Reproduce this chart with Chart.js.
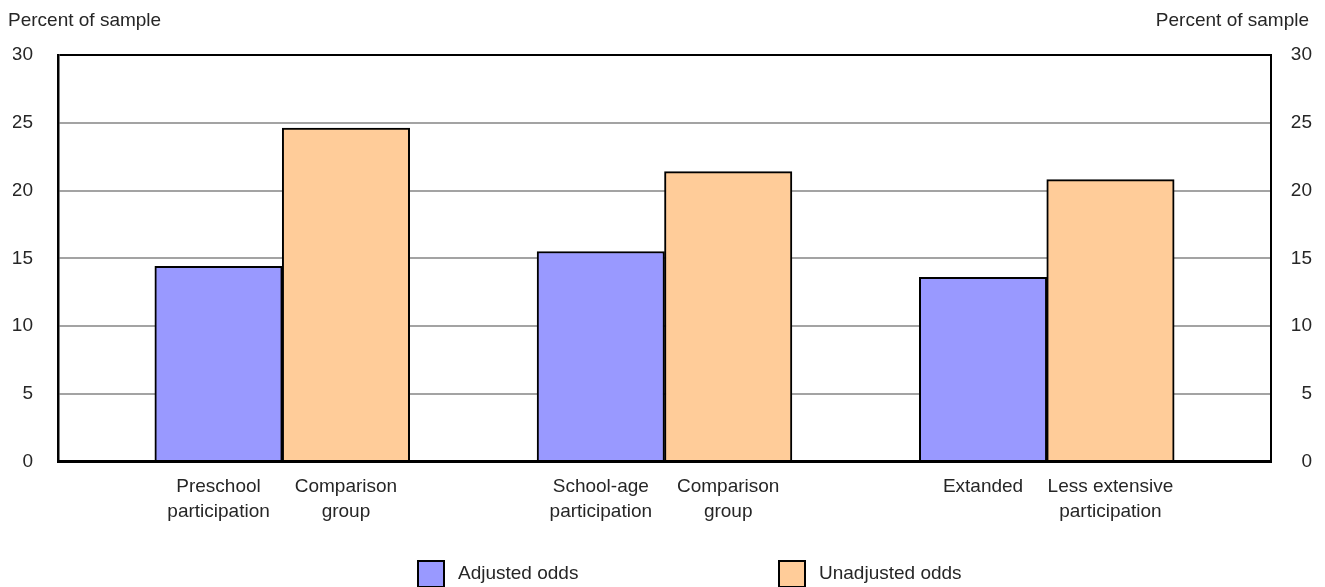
<!DOCTYPE html>
<html>
<head>
<meta charset="utf-8">
<title>Percent of sample</title>
<script src="https://cdn.jsdelivr.net/npm/chart.js@4.4.1/dist/chart.umd.min.js"></script>
<style>
  html, body { margin: 0; padding: 0; background: #ffffff; }
  #wrap { width: 1325px; height: 587px; }
</style>
</head>
<body>
<div id="wrap"><canvas id="chart" width="1325" height="587"></canvas></div>
<script>
// ---- data ----
const barLabels = [
  ['Preschool', 'participation'],
  ['Comparison', 'group'],
  ['School-age', 'participation'],
  ['Comparison', 'group'],
  ['Extanded'],
  ['Less extensive', 'participation']
];
const seriesNames = ['Adjusted odds', 'Unadjusted odds'];
const adjustedOdds = [14.4, 15.5, 13.6];
const unadjustedOdds = [24.6, 21.4, 20.8];
const yTickValues = [0, 5, 10, 15, 20, 25, 30];
const axisTitle = 'Percent of sample';

// ---- styling ----
const FONT_FAMILY = '"Liberation Sans", Arial, sans-serif';
const FONT_SIZE = 19;
const TEXT_COLOR = '#262626';
const GRID_COLOR = '#a3a3a3';
const COLORS = ['#9999ff', '#ffcc99'];

// Each group holds two bars side by side, with one empty slot between groups.
const slotOf = (group, series) => group * 3 + series;
const xSlots = [];
adjustedOdds.forEach((_, g) => { xSlots.push(slotOf(g, 0), slotOf(g, 1)); });

const series = [adjustedOdds, unadjustedOdds];
const datasets = series.map((values, s) => ({
  label: seriesNames[s],
  data: values.map((v, g) => ({ x: slotOf(g, s), y: v })),
  backgroundColor: COLORS[s],
  borderColor: '#000000',
  borderWidth: 2,
  borderSkipped: 'start',
  grouped: false,
  barPercentage: 1,
  categoryPercentage: 1,
  yAxisID: 'y'
}));

const fontSpec = { family: FONT_FAMILY, size: FONT_SIZE, lineHeight: 1.3 };

// Unit captions above both value axes
const axisCaptionPlugin = {
  id: 'axisCaptions',
  afterDraw(chart) {
    const ctx = chart.ctx;
    ctx.save();
    ctx.font = FONT_SIZE + 'px ' + FONT_FAMILY;
    ctx.fillStyle = TEXT_COLOR;
    ctx.textBaseline = 'alphabetic';
    ctx.textAlign = 'left';
    ctx.fillText(axisTitle, 8, 26);
    ctx.textAlign = 'right';
    ctx.fillText(axisTitle, 1309, 26);
    ctx.restore();
  }
};

// Series key along the bottom edge
const seriesKeyPlugin = {
  id: 'seriesKey',
  afterDraw(chart) {
    const ctx = chart.ctx;
    const lefts = [418, 779];
    const top = 561;
    const box = 26;
    ctx.save();
    chart.data.datasets.forEach((ds, i) => {
      const x = lefts[i];
      ctx.fillStyle = ds.backgroundColor;
      ctx.fillRect(x, top, box, box);
      ctx.strokeStyle = '#000000';
      ctx.lineWidth = 2;
      ctx.strokeRect(x, top, box, box);
      ctx.fillStyle = TEXT_COLOR;
      ctx.font = FONT_SIZE + 'px ' + FONT_FAMILY;
      ctx.textAlign = 'left';
      ctx.textBaseline = 'middle';
      ctx.fillText(ds.label, x + box + 14, top + box / 2);
    });
    ctx.restore();
  }
};

new Chart(document.getElementById('chart'), {
  type: 'bar',
  data: { datasets },
  plugins: [axisCaptionPlugin, seriesKeyPlugin],
  options: {
    responsive: false,
    animation: false,
    devicePixelRatio: 1,
    layout: { padding: { top: 55, left: 13, right: 13, bottom: 50 } },
    plugins: {
      legend: { display: false },
      tooltip: { enabled: false },
      title: { display: false }
    },
    scales: {
      x: {
        type: 'linear',
        min: -1.26,
        max: 8.26,
        offset: false,
        afterBuildTicks(scale) {
          scale.ticks = xSlots.map(v => ({ value: v }));
        },
        afterFit(scale) {
          // labels sit well inside the plot; no side padding needed
          scale.paddingLeft = 0;
          scale.paddingRight = 0;
        },
        ticks: {
          autoSkip: false,
          maxRotation: 0,
          minRotation: 0,
          padding: 13,
          color: TEXT_COLOR,
          font: fontSpec,
          callback: (value, index) => barLabels[index]
        },
        grid: { display: false, drawTicks: false },
        border: { display: true, color: '#000000', width: 3, z: 2 }
      },
      y: {
        position: 'left',
        min: 0,
        max: 30,
        afterBuildTicks(scale) {
          scale.ticks = yTickValues.map(v => ({ value: v }));
        },
        afterFit(scale) { scale.width = 45; },
        ticks: {
          padding: 25,
          color: TEXT_COLOR,
          font: fontSpec
        },
        grid: {
          drawTicks: false,
          color: (c) => c.tick && c.tick.value === 30 ? '#000000'
                      : (c.tick && c.tick.value === 0 ? 'rgba(0,0,0,0)' : GRID_COLOR),
          lineWidth: 2
        },
        border: { display: true, color: '#000000', width: 2.5, z: 2 }
      },
      y2: {
        position: 'right',
        min: 0,
        max: 30,
        afterBuildTicks(scale) {
          scale.ticks = yTickValues.map(v => ({ value: v }));
        },
        afterFit(scale) { scale.width = 41; },
        ticks: {
          padding: 21,
          crossAlign: 'far',
          color: TEXT_COLOR,
          font: fontSpec
        },
        grid: { display: false, drawTicks: false },
        border: { display: true, color: '#000000', width: 2, z: 2 }
      }
    }
  }
});
</script>
</body>
</html>
